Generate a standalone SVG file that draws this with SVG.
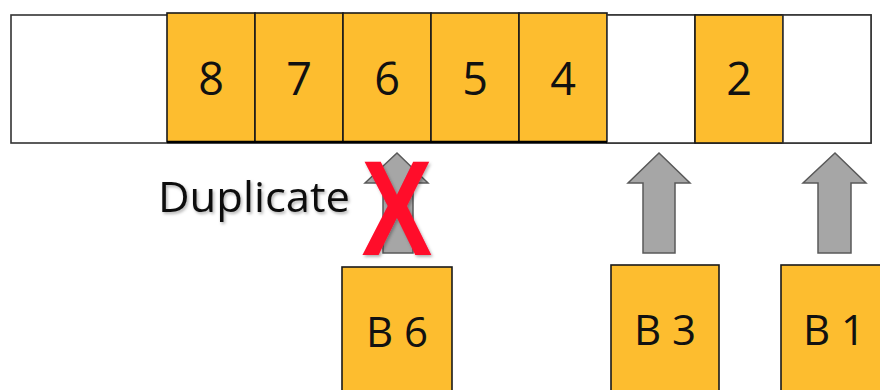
<svg xmlns="http://www.w3.org/2000/svg" width="880" height="390" viewBox="0 0 880 390">
<style>
.cell{fill:#fdbd2f;stroke:#1a1a1a;stroke-width:1.6}
.empty{fill:#ffffff;stroke:#333333;stroke-width:1.6}
.num{font-family:"Open Sans","Liberation Sans",sans-serif;font-size:45px;fill:#111111;text-anchor:middle}
.arrow{fill:#a6a6a6;stroke:#595959;stroke-width:1.5;stroke-linejoin:miter}
.lbl{font-family:"Open Sans","Liberation Sans",sans-serif;font-size:42px;fill:#111111}
</style>
<defs>
<filter id="sh" x="-20%" y="-20%" width="140%" height="140%">
<feDropShadow dx="1.5" dy="2" stdDeviation="1.5" flood-color="#000000" flood-opacity="0.3"/>
</filter>
</defs>
<g id="strip">
<rect class="empty" x="11" y="15" width="860" height="128"/>
</g>
<g id="cell-8"><rect class="cell" x="167" y="13" width="88" height="129"/><text class="num" x="211" y="95">8</text></g>
<g id="cell-7"><rect class="cell" x="255" y="13" width="88" height="129"/><text class="num" x="299" y="95">7</text></g>
<g id="cell-6"><rect class="cell" x="343" y="13" width="88" height="129"/><text class="num" x="387" y="95">6</text></g>
<g id="cell-5"><rect class="cell" x="431" y="13" width="88" height="129"/><text class="num" x="475" y="95">5</text></g>
<g id="cell-4"><rect class="cell" x="519" y="13" width="88" height="129"/><text class="num" x="563" y="95">4</text></g>
<g id="cell-empty-3"><rect class="empty" x="607" y="15" width="88" height="128"/></g>
<g id="cell-2"><rect class="cell" x="695" y="15" width="88" height="128"/><text class="num" x="739" y="95">2</text></g>
<g id="cell-empty-1"><rect class="empty" x="783" y="15" width="88" height="128"/></g>
<line x1="167" y1="142" x2="607" y2="142" stroke="#000000" stroke-width="2.5"/>

<g id="connectors">
<polygon class="arrow" points="397,153 428,183 413,183 413,253 383,253 383,183 365,183"/>
<polygon class="arrow" points="659,153 690,183 675,183 675,253 643,253 643,183 628,183"/>
<polygon class="arrow" points="835,153 866,183 851,183 851,253 818,253 818,183 803,183"/>
</g>

<g id="duplicate-label" filter="url(#sh)">
<text class="lbl" x="158" y="212" textLength="192" lengthAdjust="spacingAndGlyphs">Duplicate</text>
</g>
<g id="cross" filter="url(#sh)">
<text x="0" y="0" transform="translate(397,255) scale(0.78,1)" font-family="Liberation Sans, sans-serif" font-weight="bold" font-size="136" fill="#ff0a2a" text-anchor="middle">X</text>
</g>

<g id="B6"><rect class="cell" x="342" y="267" width="110" height="130"/><text class="lbl" x="397" y="347" text-anchor="middle">B 6</text></g>
<g id="B3"><rect class="cell" x="611" y="265" width="108" height="130"/><text class="lbl" x="665" y="345" text-anchor="middle">B 3</text></g>
<g id="B1"><rect class="cell" x="781" y="265" width="108" height="130"/><text class="lbl" x="834" y="345" text-anchor="middle">B 1</text></g>
</svg>
